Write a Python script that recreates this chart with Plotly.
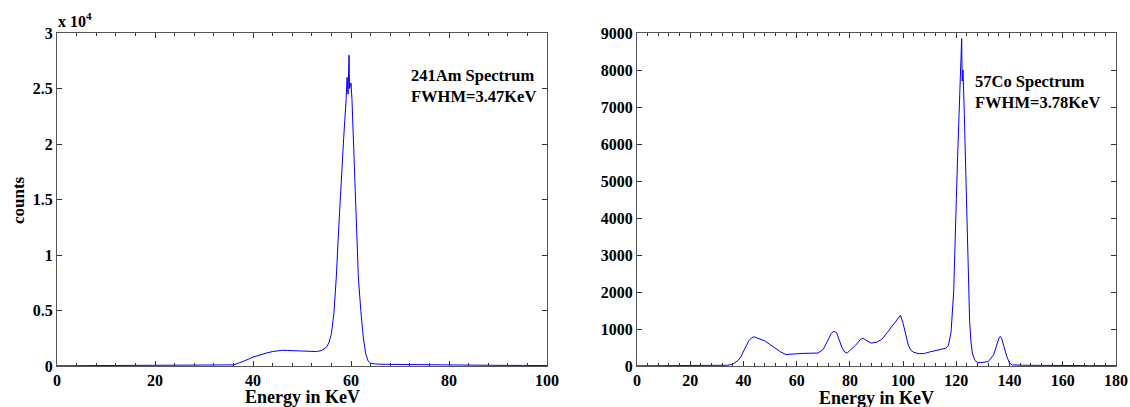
import plotly.graph_objects as go

# 241Am spectrum (energy in keV, counts)
am_energy = [0, 5, 10, 15, 20, 25, 30, 34, 36, 37, 38, 39, 40, 41, 42, 43, 44, 45, 46, 47, 48, 49, 50,
             51, 52, 53, 54, 55, 55.5, 56, 56.5, 57, 57.5, 58, 58.5, 59, 59.2, 59.4, 59.5, 59.6, 59.7,
             59.8, 60.0, 60.2, 60.4, 60.6, 61.0, 61.5, 62.0, 62.5, 63.0, 63.5, 64, 65, 67, 70, 75, 80,
             85, 90, 95, 100]
am_counts = [20, 30, 40, 30, 40, 40, 50, 60, 100, 250, 400, 600, 800, 950, 1080, 1200, 1300, 1380, 1420,
             1400, 1380, 1350, 1320, 1300, 1280, 1300, 1400, 1700, 2100, 2900, 4700, 8000, 12500, 17000,
             20500, 24000, 26000, 24500, 26800, 28000, 25000, 25200, 25500, 24000, 21500, 18500, 12500,
             8000, 5000, 2600, 1100, 450, 250, 180, 150, 130, 110, 90, 70, 60, 50, 40]

# 57Co spectrum (energy in keV, counts)
co_energy = [0, 5, 10, 15, 20, 25, 30, 34, 36, 38, 39, 40, 41, 42, 43, 44, 45, 46, 48, 50, 52, 54, 56,
             58, 60, 62, 64, 66, 68, 70, 71, 72, 73, 74, 75, 76, 77, 78, 79, 80, 82, 84, 85, 86, 88, 90,
             92, 94, 96, 98, 99, 100, 101, 102, 103, 104, 106, 108, 110, 112, 114, 116, 117, 118, 119,
             119.5, 120, 120.5, 121, 121.5, 122, 122.2, 122.5, 123, 123.5, 124, 124.5, 125, 125.5, 126,
             127, 128, 130, 132, 134, 135, 136, 136.5, 137, 138, 139, 140, 141, 145, 150, 160, 170, 180]
co_counts = [5, 5, 10, 10, 10, 10, 15, 20, 50, 150, 250, 400, 550, 680, 760, 790, 760, 730, 680, 580,
             480, 380, 310, 310, 330, 340, 340, 330, 350, 450, 600, 750, 880, 940, 900, 700, 500, 380,
             350, 420, 550, 720, 750, 700, 620, 640, 720, 900, 1100, 1300, 1370, 1150, 800, 550, 420,
             370, 330, 340, 380, 420, 450, 480, 550, 900, 2000, 3000, 4500, 5700, 6800, 7800, 8850, 7700,
             8000, 6800, 5200, 3500, 2200, 1200, 650, 350, 150, 90, 100, 120, 300, 550, 750, 800, 750,
             500, 250, 80, 30, 20, 15, 10, 10, 10]

am_yticks = [0, 5000, 10000, 15000, 20000, 25000, 30000]
am_yticktext = ["0", "0.5", "1", "1.5", "2", "2.5", "3"]

W, H = 1130, 407
FONT = "Liberation Serif"

def px(x):
    return x / W

def py(y):
    return 1 - y / H

fig = go.Figure()
fig.add_trace(go.Scatter(x=am_energy, y=am_counts, mode="lines",
                         line=dict(color="#0000ff", width=1), xaxis="x", yaxis="y",
                         showlegend=False))
fig.add_trace(go.Scatter(x=co_energy, y=co_counts, mode="lines",
                         line=dict(color="#0000ff", width=1), xaxis="x2", yaxis="y2",
                         showlegend=False))

tickfont = dict(family=FONT, size=16, color="black", weight="bold")
common = dict(showline=True, linecolor="#555", linewidth=1, mirror="ticks", ticks="inside",
              ticklen=5, tickcolor="#333", showgrid=False, zeroline=False, tickfont=tickfont,
              automargin=False)
minor = dict(dtick=4, ticks="inside", ticklen=3, tickcolor="#333")
top_common = dict(side="top", ticks="inside", ticklen=5, tickcolor="#333", showticklabels=False,
                  showgrid=False, zeroline=False, showline=False, automargin=False, minor=minor)

fig.update_layout(
    width=W, height=H, margin=dict(l=0, r=0, t=0, b=0),
    paper_bgcolor="white", plot_bgcolor="white",
    xaxis=dict(domain=[px(57), px(547)], range=[0, 100], dtick=20, anchor="y",
               minor=minor, **common),
    yaxis=dict(domain=[py(366), py(33)], range=[0, 30000], tickvals=am_yticks,
               ticktext=am_yticktext, anchor="x", **common),
    xaxis2=dict(domain=[px(637), px(1116)], range=[0, 180], dtick=20, anchor="y2",
                minor=minor, **common),
    yaxis2=dict(domain=[py(366), py(33)], range=[0, 9000], dtick=1000, anchor="x2", **common),
    xaxis3=dict(overlaying="x", anchor="y", range=[0, 100], dtick=20, **top_common),
    xaxis4=dict(overlaying="x2", anchor="y2", range=[0, 180], dtick=20, **top_common),
)
# invisible traces so the top tick axes render
fig.add_trace(go.Scatter(x=[], y=[], xaxis="x3", yaxis="y", showlegend=False))
fig.add_trace(go.Scatter(x=[], y=[], xaxis="x4", yaxis="y2", showlegend=False))

bold = dict(family=FONT, size=18, color="black", weight="bold")
anns = [
    dict(x=px(302), y=py(397), text="Energy in KeV", font=bold),
    dict(x=px(876), y=py(398), text="Energy in KeV", font=bold),
    dict(x=px(18), y=py(200), text="counts", textangle=-90,
         font=dict(family=FONT, size=17, color="black", weight="bold")),
    dict(x=px(56), y=py(20), text="x 10<sup>4</sup>", xanchor="left",
         font=dict(family=FONT, size=16, color="black", weight="bold")),
    dict(x=px(409), y=py(86), text="241Am Spectrum<br>FWHM=3.47KeV", xanchor="left",
         align="left", font=dict(family=FONT, size=16.5, color="black", weight="bold")),
    dict(x=px(973), y=py(92), text="57Co Spectrum<br>FWHM=3.78KeV", xanchor="left",
         align="left", font=dict(family=FONT, size=16.5, color="black", weight="bold")),
]
for a in anns:
    a.update(xref="paper", yref="paper", showarrow=False)
    if "xanchor" not in a:
        a["xanchor"] = "center"
    a["yanchor"] = "middle"
fig.update_layout(annotations=anns)

fig.write_html("out.html", config={"displayModeBar": False},
               post_script="document.body.style.margin='0';")
